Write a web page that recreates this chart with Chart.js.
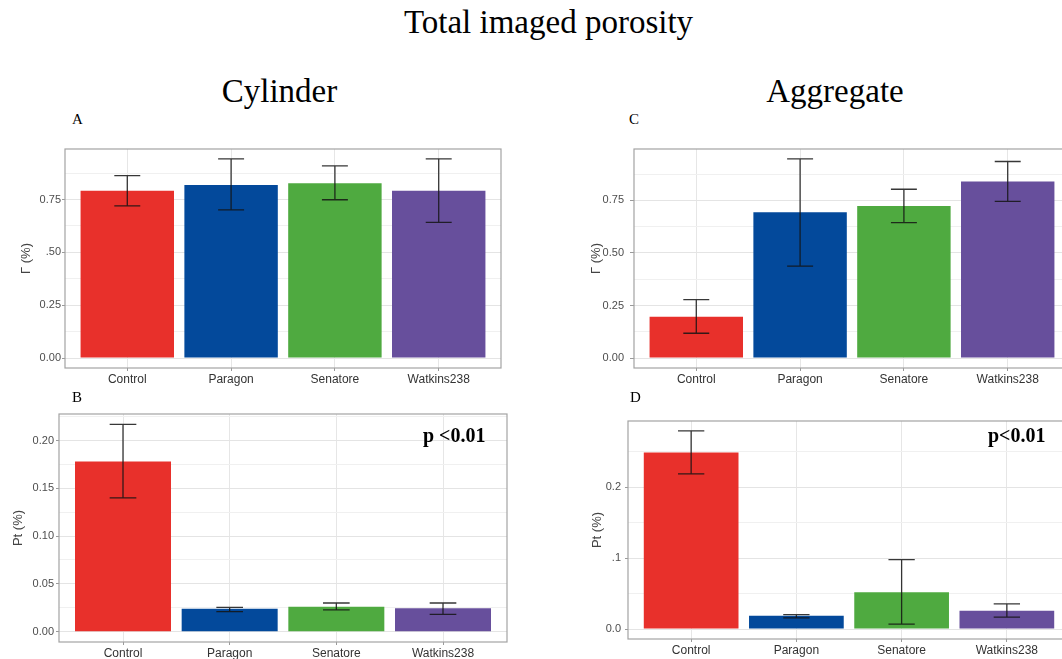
<!DOCTYPE html>
<html>
<head>
<meta charset="utf-8">
<script src="https://cdn.jsdelivr.net/npm/chart.js@4.4.1/dist/chart.umd.min.js"></script>
<style>
body{margin:0;background:#fff;width:1062px;height:659px;overflow:hidden;position:relative;font-family:"Liberation Serif","Times New Roman",serif;}
.t{position:absolute;white-space:nowrap;color:#000;line-height:1;z-index:2;}
canvas{position:absolute;z-index:1;}
</style>
</head>
<body>
<canvas id="panelA" width="520" height="262" style="left:0;top:130px"></canvas>
<canvas id="panelB" width="525" height="259" style="left:0;top:400px"></canvas>
<canvas id="panelC" width="520" height="262" style="left:560px;top:130px"></canvas>
<canvas id="panelD" width="520" height="259" style="left:560px;top:400px"></canvas>

<div class="t" style="left:0;width:1097px;text-align:center;top:6px;font-size:33px">Total imaged porosity</div>
<div class="t" style="left:0;width:559px;text-align:center;top:75px;font-size:33px">Cylinder</div>
<div class="t" style="left:570px;width:530px;text-align:center;top:75px;font-size:33px">Aggregate</div>
<div class="t" style="left:72px;top:112px;font-size:15px">A</div>
<div class="t" style="left:72px;top:390px;font-size:15px">B</div>
<div class="t" style="left:629px;top:112px;font-size:15px">C</div>
<div class="t" style="left:630px;top:390px;font-size:15px">D</div>
<div class="t" style="left:423px;top:425px;font-size:20px;font-weight:bold">p &lt;0.01</div>
<div class="t" style="left:988px;top:425px;font-size:20px;font-weight:bold">p&lt;0.01</div>

<script>
// data
var categories = ['Control', 'Paragon', 'Senatore', 'Watkins238'];

var cylGamma   = [0.792, 0.819, 0.827, 0.792];
var cylGammaLo = [0.720, 0.701, 0.749, 0.642];
var cylGammaHi = [0.863, 0.942, 0.909, 0.942];

var aggGamma   = [0.197, 0.694, 0.723, 0.840];
var aggGammaLo = [0.118, 0.437, 0.644, 0.745];
var aggGammaHi = [0.278, 0.947, 0.803, 0.935];

var cylPt   = [0.178, 0.024, 0.026, 0.0245];
var cylPtLo = [0.140, 0.021, 0.0227, 0.018];
var cylPtHi = [0.217, 0.0255, 0.030, 0.030];

var aggPt   = [0.249, 0.0187, 0.052, 0.026];
var aggPtLo = [0.219, 0.0159, 0.007, 0.0168];
var aggPtHi = [0.2795, 0.0205, 0.098, 0.0355];

// tick values and labels
var gammaTicks = [0, 0.25, 0.5, 0.75];
var gammaMinor = [0.125, 0.375, 0.625, 0.875];
var cylGammaLabels = ['0.00', '0.25', '.50', '0.75'];
var aggGammaLabels = ['0.00', '0.25', '0.50', '0.75'];

var cylPtTicks = [0, 0.05, 0.10, 0.15, 0.20];
var cylPtMinor = [0.025, 0.075, 0.125, 0.175, 0.225];
var cylPtLabels = ['0.00', '0.05', '0.10', '0.15', '0.20'];

var aggPtTicks = [0, 0.1, 0.2];
var aggPtMinor = [0.05, 0.15, 0.25];
var aggPtLabels = ['0.0', '.1', '0.2'];

var barColors = ['#e8302b', '#03499b', '#4faa40', '#674f9c'];

var errorBars = {
  id: 'errorBars',
  afterDatasetsDraw: function(chart, args, opts) {
    var ctx = chart.ctx;
    var xs = chart.scales.x, ys = chart.scales.y;
    var half = 0.125 * (xs.getPixelForValue(2) - xs.getPixelForValue(1));
    var meta = chart.getDatasetMeta(0);
    ctx.save();
    ctx.strokeStyle = 'rgba(20,20,20,0.85)';
    ctx.lineWidth = 1.3;
    meta.data.forEach(function(bar, i) {
      var x = bar.x;
      var yl = ys.getPixelForValue(opts.lo[i]);
      var yh = ys.getPixelForValue(opts.hi[i]);
      ctx.beginPath();
      ctx.moveTo(x, yl); ctx.lineTo(x, yh);
      ctx.moveTo(x - half, yl); ctx.lineTo(x + half, yl);
      ctx.moveTo(x - half, yh); ctx.lineTo(x + half, yh);
      ctx.stroke();
    });
    ctx.restore();
  }
};

var frame = {
  id: 'frame',
  afterDraw: function(chart) {
    var a = chart.chartArea, ctx = chart.ctx;
    ctx.save();
    ctx.strokeStyle = '#a3a3a3';
    ctx.lineWidth = 1.2;
    ctx.strokeRect(a.left, a.top, a.right - a.left, a.bottom - a.top);
    ctx.restore();
  }
};

function makePanel(id, values, lo, hi, ticks, minor, labels, yTitle, lay) {
  var top = Math.max.apply(null, hi);
  var allTicks = ticks.concat(minor).sort(function(a, b) { return a - b; });
  new Chart(document.getElementById(id), {
    type: 'bar',
    data: {
      datasets: [{
        data: values.map(function(v, i) { return {x: i + 1, y: v}; }),
        backgroundColor: barColors,
        borderWidth: 0,
        categoryPercentage: 1,
        barPercentage: 0.9
      }]
    },
    options: {
      responsive: false,
      animation: false,
      layout: {padding: {left: 0, top: lay.padTop, right: lay.padRight, bottom: 0}},
      plugins: {
        legend: {display: false},
        tooltip: {enabled: false},
        errorBars: {lo: lo, hi: hi}
      },
      scales: {
        x: {
          type: 'linear',
          offset: false,
          min: 0.4,
          max: 4.6,
          afterBuildTicks: function(s) { s.ticks = categories.map(function(c, i) { return {value: i + 1}; }); },
          afterFit: function(s) { s.height = lay.xAxisH; },
          border: {display: false},
          grid: {offset: false, color: '#e6e6e6', lineWidth: 1, tickColor: '#9a9a9a', tickLength: 3},
          ticks: {
            padding: 1,
            color: '#333',
            font: {family: 'Liberation Sans', size: 12},
            maxRotation: 0,
            callback: function(v) { return categories[Math.round(v) - 1]; }
          }
        },
        y: {
          min: -0.05 * top,
          max: 1.05 * top,
          afterBuildTicks: function(s) { s.ticks = allTicks.map(function(v) { return {value: v}; }); },
          afterFit: function(s) { s.width = lay.yAxisW; },
          border: {display: false},
          grid: {
            color: function(c) { return ticks.indexOf(c.tick.value) >= 0 ? '#e4e4e4' : '#f0f0f0'; },
            tickColor: function(c) { return ticks.indexOf(c.tick.value) >= 0 ? '#9a9a9a' : 'rgba(0,0,0,0)'; },
            lineWidth: 1,
            tickLength: lay.tickLen
          },
          ticks: {
            padding: lay.tickPad,
            color: '#4d4d4d',
            font: {family: 'Liberation Sans', size: 11},
            callback: function(v) { var k = ticks.indexOf(v); return k >= 0 ? labels[k] : ''; }
          },
          title: {
            display: true,
            text: yTitle,
            color: '#444',
            font: {family: 'Liberation Sans', size: 13},
            padding: {top: lay.titlePad, bottom: 0}
          }
        }
      }
    },
    plugins: [errorBars, frame]
  });
}

makePanel('panelA', cylGamma, cylGammaLo, cylGammaHi, gammaTicks, gammaMinor, cylGammaLabels, '\u0393 (%)',
  {padTop: 19, padRight: 19, yAxisW: 65, xAxisH: 24, tickLen: 3, tickPad: 1, titlePad: 19});
makePanel('panelB', cylPt, cylPtLo, cylPtHi, cylPtTicks, cylPtMinor, cylPtLabels, 'Pt (%)',
  {padTop: 14, padRight: 18, yAxisW: 59, xAxisH: 17, tickLen: 3, tickPad: 2, titlePad: 11});
makePanel('panelC', aggGamma, aggGammaLo, aggGammaHi, gammaTicks, gammaMinor, aggGammaLabels, '\u0393 (%)',
  {padTop: 19, padRight: 10, yAxisW: 74, xAxisH: 24, tickLen: 4, tickPad: 6, titlePad: 29});
makePanel('panelD', aggPt, aggPtLo, aggPtHi, aggPtTicks, aggPtMinor, aggPtLabels, 'Pt (%)',
  {padTop: 21, padRight: 10, yAxisW: 68, xAxisH: 20, tickLen: 3, tickPad: 4, titlePad: 30});
</script>
</body>
</html>
